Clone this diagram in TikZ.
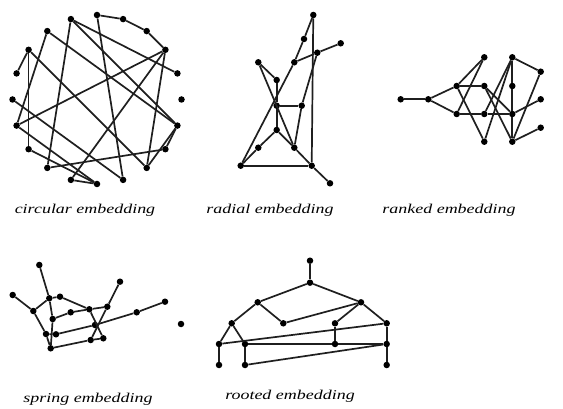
\documentclass[tikz,border=0pt]{standalone}
\usepackage{fontspec}
\setmainfont{Liberation Serif}
\begin{document}
\begin{tikzpicture}[x=1pt,y=-1pt,
  dot/.style={circle,fill=black,inner sep=0pt,minimum size=6.5pt},
  edge/.style={line width=1.7pt,black!88},
  lbl/.style={inner sep=0pt,font=\fontsize{13.5}{15}\selectfont\itshape}]
\useasboundingbox (0,0) rectangle (563,409);
% ---------- circular ----------
\foreach \n/\x/\y in {1/97/15,2/123.1/19.1,3/146.7/31.1,4/165.4/49.8,5/177.4/73.4,
  6/181.5/99.5,7/177.4/125.6,8/165.4/149.2,9/146.7/167.9,10/123.1/179.9,
  11/97/184,12/70.9/179.9,13/47.3/167.9,14/28.6/149.2,15/16.6/125.6,
  16/12.5/99.5,17/16.6/73.4,18/28.6/49.8,19/47.3/31.1,20/70.9/19.1}
  \node[dot] (a\n) at (\x,\y) {};
\foreach \u/\v in {1/2,2/3,3/4,1/10,20/5,20/7,20/13,19/7,19/15,18/17,18/14,18/9,
  4/15,4/12,4/9,16/10,14/11,13/8,12/11,7/8,7/9,15/11}
  \draw[edge] (a\u) -- (a\v);
\node[lbl] (lc) at (85,210) {\scalebox{1.33}[1]{circular embedding}};
% ---------- radial ----------
\foreach \n/\x/\y in {1/313.3/15,2/304/39,3/340.7/43.3,4/317.3/52.7,5/294.3/62.3,
  6/258.3/62.3,7/276.7/80,8/276.7/105.7,9/301.7/105.7,10/276.7/130,
  11/258.3/147.7,12/294.3/147.7,13/240.7/165.7,14/311.7/165.7,15/330/183.3}
  \node[dot] (r\n) at (\x,\y) {};
\foreach \u/\v in {1/2,2/5,1/14,3/4,4/5,5/13,6/7,6/12,7/8,8/9,8/10,10/11,11/13,
  10/12,12/14,4/9,9/12,13/14,14/15}
  \draw[edge] (r\u) -- (r\v);
\node[lbl] (lr) at (270,210) {\scalebox{1.33}[1]{radial embedding}};
% ---------- ranked ----------
\foreach \n/\x/\y in {1/400.7/99.3,2/428.3/99.3,3/456.7/86,4/456.7/114,
  5/484.3/57.3,6/484.3/86,7/484.3/114,8/484.3/141.7,
  9/512.3/57.3,10/512.3/86,11/512.3/114,12/512.3/141.7,
  13/540.7/71.7,14/540.7/99.3,15/540.7/127.7}
  \node[dot] (k\n) at (\x,\y) {};
\foreach \u/\v in {1/2,2/3,2/4,3/5,4/5,3/6,3/8,4/7,7/11,6/11,6/12,7/9,8/9,
  9/10,10/11,11/12,9/13,13/12,11/14,12/15}
  \draw[edge] (k\u) -- (k\v);
\node[lbl] (lk) at (449,210) {\scalebox{1.33}[1]{ranked embedding}};
% ---------- spring ----------
\foreach \n/\x/\y in {1/39.3/265,2/12.7/295,3/49.3/298.3,4/60/296.7,5/33.3/311,
  6/70.7/312.3,7/89.3/309.3,8/107.3/306.7,9/120/281.7,10/52.7/319,
  11/136.7/312.3,12/165/301.7,13/95/325,14/46/334,15/56/334.3,
  16/50.7/348.3,17/90.7/340,18/103.3/338.3,19/181/324}
  \node[dot] (s\n) at (\x,\y) {};
\foreach \u/\v in {1/3,3/10,10/16,2/5,5/3,3/4,4/7,5/14,14/15,14/16,10/6,6/7,7/8,
  8/9,8/17,7/18,15/13,13/11,11/12,16/17,17/18}
  \draw[edge] (s\u) -- (s\v);
\node[lbl] (ls) at (88,399) {\scalebox{1.33}[1]{spring embedding}};
% ---------- rooted ----------
\foreach \n/\x/\y in {1/310/260.7,2/310/282.7,3/257.7/302.3,4/361/302.3,
  5/231.7/323.3,6/283.3/323.3,7/335/323.3,8/386.7/323.3,
  9/219/344,10/245/344,11/335/344,12/386.7/344,
  13/219/365,14/245/365,15/386.7/365}
  \node[dot] (t\n) at (\x,\y) {};
\foreach \u/\v in {1/2,2/3,2/4,3/5,3/6,6/4,4/7,4/8,5/9,5/10,9/8,10/11,11/12,
  7/11,8/12,9/13,10/14,14/12,12/15}
  \draw[edge] (t\u) -- (t\v);
\node[lbl] (lt) at (290,396) {\scalebox{1.33}[1]{rooted embedding}};
\end{tikzpicture}
\end{document}
